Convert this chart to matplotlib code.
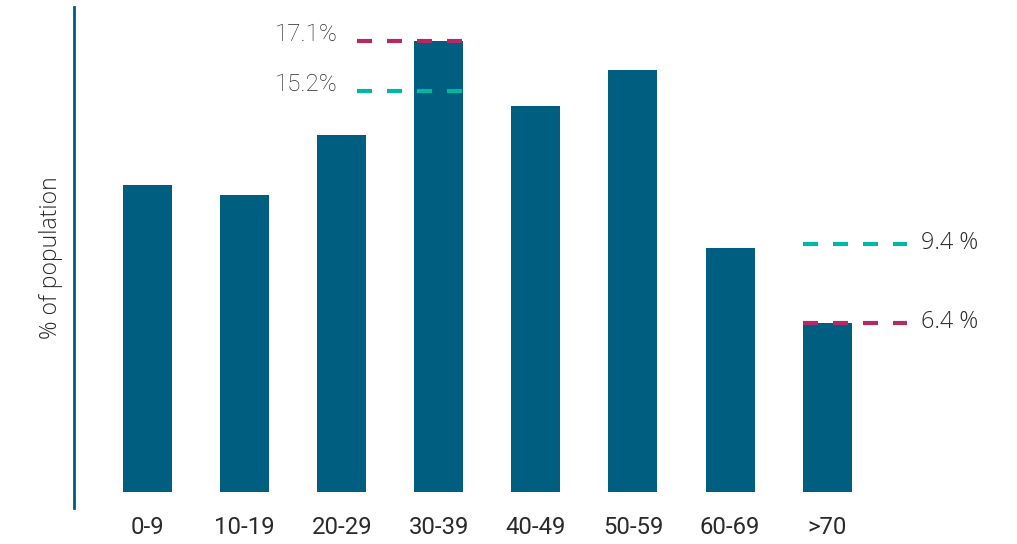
import matplotlib
matplotlib.use("Agg")
import matplotlib.pyplot as plt

# Age groups and share of population (%)
age_groups = ["0-9", "10-19", "20-29", "30-39", "40-49", "50-59", "60-69", ">70"]
population_share = [11.65, 11.25, 13.55, 17.1, 14.65, 16.0, 9.25, 6.4]

# Reference levels shown against the 30-39 and >70 groups
peak_levels = [17.1, 15.2]
peak_labels = ["17.1%", "15.2%"]
elder_levels = [9.4, 6.4]
elder_labels = ["9.4 %", "6.4 %"]

BAR_COLOR = "#005e80"
MAGENTA = "#b52a64"
TEAL = "#00b7a2"
TEXT = "#2a2a2a"

plt.rcParams["lines.scale_dashes"] = False

fig = plt.figure(figsize=(10.17, 5.44), dpi=100)
ax = fig.add_axes([74 / 1017, 36 / 544, (1000 - 74) / 1017, (508 - 7) / 544])

x = list(range(len(age_groups)))
width = 0.505
ax.bar(x, population_share, width=width, color=BAR_COLOR, zorder=2)

ax.set_xlim(-0.757, 8.78)
ax.set_ylim(-0.607, 18.39)

for s in ["top", "right", "bottom"]:
    ax.spines[s].set_visible(False)
ax.spines["left"].set_color(BAR_COLOR)
ax.spines["left"].set_linewidth(2)
ax.set_yticks([])
ax.set_xticks(x)
ax.set_xticklabels(age_groups, fontfamily="Roboto", fontsize=17.2, color=TEXT)
ax.tick_params(axis="x", length=0, pad=6)

ax.set_ylabel("% of population", fontfamily="Open Sans", fontweight="light",
              fontsize=16.5, color=TEXT, labelpad=8)

dash = (10.8, 10.8)
colors = [MAGENTA, TEAL]

# Lines ending at the right edge of the 30-39 bar, labels on the left
i_peak = age_groups.index("30-39")
for lvl, lab, c in zip(peak_levels, peak_labels, colors):
    ax.plot([2.157, i_peak + width / 2], [lvl, lvl], color=c, lw=3,
            dashes=dash, zorder=3, solid_capstyle="butt", dash_capstyle="butt")
    ax.annotate(lab, xy=(2.157, lvl), xytext=(-14, 5), textcoords="offset points",
                ha="right", va="center", fontfamily="Roboto", fontweight="light",
                fontsize=17.4, color=TEXT)

# Lines starting at the left edge of the >70 bar, labels on the right
i_old = age_groups.index(">70")
for lvl, lab, c in zip(elder_levels, elder_labels, [TEAL, MAGENTA]):
    ax.plot([i_old - width / 2, 7.82], [lvl, lvl], color=c, lw=3,
            dashes=dash, zorder=3, dash_capstyle="butt")
    ax.annotate(lab, xy=(7.82, lvl), xytext=(10, 1), textcoords="offset points",
                ha="left", va="center", fontfamily="Open Sans", fontweight="light",
                fontsize=16.8, color=TEXT)

fig.savefig("out.png", dpi=100, facecolor="white")
